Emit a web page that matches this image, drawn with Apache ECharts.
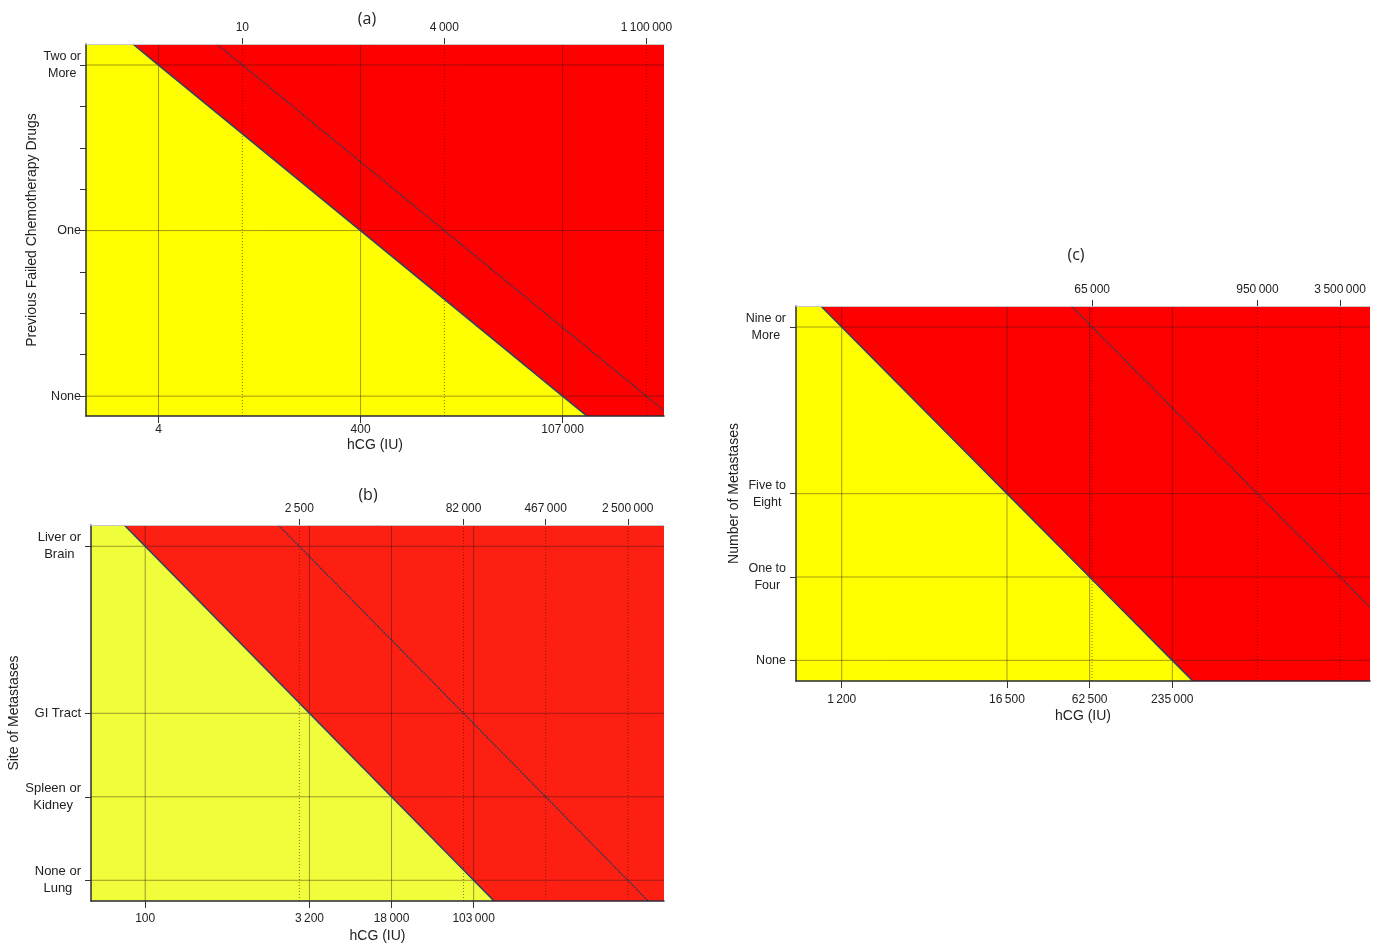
<!DOCTYPE html>
<html><head><meta charset="utf-8">
<script src="https://cdn.jsdelivr.net/npm/echarts@6/dist/echarts.min.js"></script>
<style>html,body{margin:0;padding:0;background:#fff}#c{width:1376px;height:946px}</style>
</head><body><div id="c"></div>
<script>
const T = '\u2009';
// ---- Panel (a): Previous failed chemotherapy drugs ----
const aCategories = ['None', 'One', 'Two or\nMore'];
const aCategoryVals = [0, 1, 2];
const aMinorTickVals = [0, 0.25, 0.5, 0.75, 1, 1.25, 1.5, 1.75, 2];
const aBottomLabels = ['4', '400', '107' + T + '000'];
const aBottomVals = [0, 1, 2];
const aTopLabels = ['10', '4' + T + '000', '1' + T + '100' + T + '000'];
const aTopVals = [0.415, 1.415, 2.415];
const aBoundary = [[0, 2], [1, 1], [2, 0]];
const aShifted = [[0.415, 2], [1.415, 1], [2.415, 0]];
const aXRange = [-0.359, 2.502];
const aYRange = [-0.12, 2.127];

// ---- Panel (b): Site of metastases ----
const bCategories = ['None or\nLung', 'Spleen or\nKidney', 'GI Tract', 'Liver or\nBrain'];
const bCategoryVals = [0, 1, 2, 4];
const bBottomLabels = ['100', '3' + T + '200', '18' + T + '000', '103' + T + '000'];
const bBottomVals = [0, 2, 3, 4];
const bTopLabels = ['2' + T + '500', '82' + T + '000', '467' + T + '000', '2' + T + '500' + T + '000'];
const bTopVals = [1.877, 3.877, 4.877, 5.877];
const bBoundary = [[0, 4], [2, 2], [3, 1], [4, 0]];
const bShifted = [[1.877, 4], [3.877, 2], [4.877, 1], [5.877, 0]];
const bXRange = [-0.66, 6.318];
const bYRange = [-0.248, 4.255];

// ---- Panel (c): Number of metastases ----
const cCategories = ['None', 'One to\nFour', 'Five to\nEight', 'Nine or\nMore'];
const cCategoryVals = [0, 1, 2, 4];
const cBottomLabels = ['1' + T + '200', '16' + T + '500', '62' + T + '500', '235' + T + '000'];
const cBottomVals = [0, 2, 3, 4];
const cTopLabels = ['65' + T + '000', '950' + T + '000', '3' + T + '500' + T + '000'];
const cTopVals = [3.03, 5.03, 6.03];
const cBoundary = [[0, 4], [2, 2], [3, 1], [4, 0]];
const cShifted = [[3.03, 4], [5.03, 2], [6.03, 1]];
const cXRange = [-0.553, 6.392];
const cYRange = [-0.248, 4.252];

const FONT = '"Liberation Sans", Arial, sans-serif';
const TXT = '#222';

// extend a polyline to the plot edges (clipped to the x range)
function extend(pts, xr, yr) {
  const p0 = pts[0], p1 = pts[1];
  const q0 = pts[pts.length - 2], q1 = pts[pts.length - 1];
  const s0 = (p1[0] - p0[0]) / (p1[1] - p0[1]);
  const s1 = (q1[0] - q0[0]) / (q1[1] - q0[1]);
  let start = [p0[0] + (yr[1] - p0[1]) * s0, yr[1]];
  if (start[0] < xr[0]) start = [xr[0], p0[1] + (xr[0] - p0[0]) / s0];
  let end = [q1[0] + (yr[0] - q1[1]) * s1, yr[0]];
  if (end[0] > xr[1]) end = [xr[1], q1[1] + (xr[1] - q1[0]) / s1];
  const inner = pts.filter(q => q[0] <= xr[1] && q[0] >= xr[0]);
  return [start].concat(inner, [end]);
}

const panels = [
  { cats: aCategories, catVals: aCategoryVals, tickVals: aMinorTickVals,
    bl: aBottomLabels, bv: aBottomVals, tl: aTopLabels, tv: aTopVals,
    boundary: aBoundary, shifted: aShifted, xr: aXRange, yr: aYRange,
    grid: { left: 86, top: 44, width: 578, height: 372 },
    yellow: '#FFFF00', red: '#FF0000', catSize: 12.5, catMargin: 5,
    bMargin: 8, nameGap: 22, yName: 'Previous Failed Chemotherapy Drugs', yNameGap: 45 },
  { cats: bCategories, catVals: bCategoryVals, tickVals: bCategoryVals,
    bl: bBottomLabels, bv: bBottomVals, tl: bTopLabels, tv: bTopVals,
    boundary: bBoundary, shifted: bShifted, xr: bXRange, yr: bYRange,
    grid: { left: 91, top: 525, width: 573, height: 376 },
    yellow: '#EFFD3B', red: '#FD1F12', catSize: 13, catMargin: 10,
    bMargin: 12, nameGap: 28, yName: 'Site of Metastases', yNameGap: 65 },
  { cats: cCategories, catVals: cCategoryVals, tickVals: cCategoryVals,
    bl: cBottomLabels, bv: cBottomVals, tl: cTopLabels, tv: cTopVals,
    boundary: cBoundary, shifted: cShifted, xr: cXRange, yr: cYRange,
    grid: { left: 796, top: 306, width: 574, height: 375 },
    yellow: '#FFFF00', red: '#FF0000', catSize: 12.5, catMargin: 10,
    bMargin: 13, nameGap: 28, yName: 'Number of Metastases', yNameGap: 55 }
];

const grids = [], xAxes = [], yAxes = [], series = [];
panels.forEach((p, i) => {
  grids.push(Object.assign({ show: true, backgroundColor: p.red, borderWidth: 0, containLabel: false }, p.grid));
  const common = { type: 'value', gridIndex: i, min: p.xr[0], max: p.xr[1], splitLine: { show: false }, z: 10 };
  xAxes.push(Object.assign({}, common, {
    position: 'bottom',
    name: 'hCG (IU)', nameLocation: 'middle', nameGap: p.nameGap,
    nameTextStyle: { fontSize: 14, color: TXT, fontFamily: FONT },
    axisLine: { show: true, onZero: false, lineStyle: { color: '#2b2b3a', width: 1.5 } },
    axisTick: { show: true, customValues: p.bv, length: 7, lineStyle: { color: '#333', width: 1 } },
    axisLabel: { show: true, customValues: p.bv, margin: p.bMargin, fontSize: 12, color: TXT, fontFamily: FONT,
      formatter: v => p.bl[p.bv.indexOf(v)] }
  }));
  xAxes.push(Object.assign({}, common, {
    position: 'top',
    axisLine: { show: true, onZero: false, lineStyle: { color: '#c8c8c8', width: 1 } },
    axisTick: { show: true, customValues: p.tv, length: 6, lineStyle: { color: '#333', width: 1 } },
    axisLabel: { show: true, customValues: p.tv, margin: 10, fontSize: 12, color: TXT, fontFamily: FONT,
      formatter: v => p.tl[p.tv.indexOf(v)] }
  }));
  yAxes.push({
    type: 'value', gridIndex: i, min: p.yr[0], max: p.yr[1], z: 10,
    splitLine: { show: false },
    name: p.yName, nameLocation: 'middle', nameGap: p.yNameGap,
    nameTextStyle: { fontSize: 14, color: TXT, fontFamily: FONT },
    axisLine: { show: true, onZero: false, lineStyle: { color: '#2b2b3a', width: 1.5 } },
    axisTick: { show: true, customValues: p.tickVals, length: 6, lineStyle: { color: '#333', width: 1 } },
    axisLabel: { show: true, customValues: p.catVals, margin: p.catMargin,
      fontSize: p.catSize, lineHeight: 17, color: TXT, fontFamily: FONT,
      formatter: v => {
        const s = p.cats[p.catVals.indexOf(v)];
        return s.split('\n').map(l => '{c|' + l + '}').join('\n');
      },
      rich: { c: { align: 'center', fontSize: p.catSize, lineHeight: 17, color: TXT, fontFamily: FONT } }
    }
  });
  const ax = { xAxisIndex: 2 * i, yAxisIndex: i };
  const bnd = extend(p.boundary, p.xr, p.yr);
  const shf = extend(p.shifted, p.xr, p.yr);
  // yellow region (below/left of boundary)
  series.push(Object.assign({
    type: 'line', silent: true, symbol: 'none', z: 2, animation: false,
    data: [[p.xr[0], p.yr[1]]].concat(bnd),
    lineStyle: { width: 0, opacity: 0 },
    areaStyle: { origin: 'start', color: p.yellow, opacity: 1 }
  }, ax));
  const grid = (data, dotted) => Object.assign({
    type: 'line', silent: true, symbol: 'none', z: 3, animation: false, data,
    lineStyle: { color: dotted ? 'rgba(40,20,20,0.55)' : 'rgba(40,20,20,0.42)', width: 1, type: dotted ? [1, 2] : 'solid' }
  }, ax);
  p.bv.forEach(v => series.push(grid([[v, p.yr[0]], [v, p.yr[1]]], false)));
  p.tv.forEach(v => series.push(grid([[v, p.yr[0]], [v, p.yr[1]]], true)));
  p.catVals.forEach(v => series.push(grid([[p.xr[0], v], [p.xr[1], v]], false)));
  series.push(Object.assign({
    type: 'line', silent: true, symbol: 'none', z: 4, animation: false, data: bnd,
    lineStyle: { color: '#33405e', width: 1.6 }
  }, ax));
  series.push(Object.assign({
    type: 'line', silent: true, symbol: 'none', z: 4, animation: false, data: shf,
    lineStyle: { color: '#2e3a55', width: 1.3, type: [2, 1] }
  }, ax));
});

const chart = echarts.init(document.getElementById('c'), null, { renderer: 'canvas' });
chart.setOption({
  animation: false,
  backgroundColor: '#fff',
  grid: grids, xAxis: xAxes, yAxis: yAxes, series,
  graphic: [
    { type: 'text', x: 367, y: 19, style: { text: '(a)', align: 'center', verticalAlign: 'middle', font: '16px "Open Sans", sans-serif', fill: TXT } },
    { type: 'text', x: 368, y: 495, style: { text: '(b)', align: 'center', verticalAlign: 'middle', font: '16px "Open Sans", sans-serif', fill: TXT } },
    { type: 'text', x: 1076, y: 255, style: { text: '(c)', align: 'center', verticalAlign: 'middle', font: '16px "Open Sans", sans-serif', fill: TXT } }
  ]
});
</script></body></html>
